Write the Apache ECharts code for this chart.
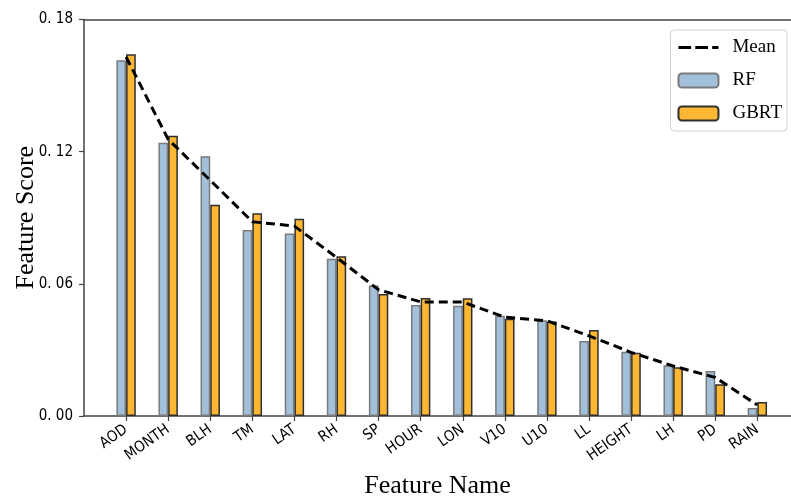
<!DOCTYPE html>
<html>
<head>
<meta charset="utf-8">
<script src="https://cdn.jsdelivr.net/npm/echarts@6/dist/echarts.min.js"></script>
<style>html,body{margin:0;padding:0;background:#fff;}#c{width:791px;height:497px;}</style>
</head>
<body>
<div id="c"></div>
<script>
const categories = ['AOD','MONTH','BLH','TM','LAT','RH','SP','HOUR','LON','V10','U10','LL','HEIGHT','LH','PD','RAIN'];
const rfValues   = [0.1615,0.1241,0.1179,0.0844,0.0829,0.0714,0.0592,0.0504,0.0501,0.0455,0.0435,0.0340,0.0292,0.0230,0.0204,0.0036];
const gbrtValues = [0.1642,0.1272,0.0959,0.0920,0.0896,0.0725,0.0554,0.0536,0.0534,0.0442,0.0429,0.0390,0.0287,0.0221,0.0144,0.0064];
const meanValues = [0.1630,0.1256,0.1070,0.0882,0.0862,0.0720,0.0573,0.0518,0.0517,0.0449,0.0432,0.0364,0.0289,0.0227,0.0175,0.0050];
const yTicks = [0, 0.06, 0.12, 0.18];

const idx = categories.map((_, i) => i);
const chart = echarts.init(document.getElementById('c'), null, {renderer: 'canvas'});
const tickFont = '"Liberation Sans Narrow", "DejaVu Sans Condensed", sans-serif';
const dashIcon = 'path://M0,0h12v3h-12z M16,0h12v3h-12z M32,0h6v3h-6z';
chart.setOption({
  animation: false,
  backgroundColor: '#fff',
  grid: {left: 84, right: 0, top: 19.5, bottom: 81, outerBoundsMode: 'none', containLabel: false},
  legend: {
    orient: 'vertical', right: 4, top: 30,
    backgroundColor: '#fff', borderColor: '#d0d0d0', borderWidth: 1, borderRadius: 4,
    padding: [8, 5, 8, 7], itemWidth: 40, itemHeight: 14, itemGap: 14,
    textStyle: {fontFamily: '"Liberation Serif", serif', fontSize: 19, color: '#000', padding: [0, 0, 0, 9]},
    data: [{name: 'Mean', icon: dashIcon, itemStyle: {color: '#000'}}, 'RF', 'GBRT']
  },
  xAxis: [{
    type: 'value', min: -1, max: 15.8,
    splitLine: {show: false},
    axisLine: {onZero: false, lineStyle: {color: '#444', width: 1.5}},
    axisTick: {show: true, length: 5, lineStyle: {color: '#444', width: 1.2}, customValues: idx},
    axisLabel: {
      customValues: idx, rotate: 35, margin: 12,
      fontFamily: tickFont, fontSize: 15, color: '#000',
      formatter: v => categories[Math.round(v)] || ''
    },
    name: 'Feature Name', nameLocation: 'middle', nameGap: 57, nameMoveOverlap: false,
    nameTextStyle: {fontFamily: '"Liberation Serif", serif', fontSize: 26, color: '#000'}
  }, {
    type: 'value', position: 'top', min: -1, max: 15.8,
    axisLine: {show: true, onZero: false, lineStyle: {color: '#444', width: 1.5}},
    axisTick: {show: false}, axisLabel: {show: false}, splitLine: {show: false}
  }],
  yAxis: {
    type: 'value', min: 0, max: 0.18, interval: 0.06,
    splitLine: {show: false},
    axisLine: {show: true, onZero: false, lineStyle: {color: '#444', width: 1.5}},
    axisTick: {show: true, length: 5, lineStyle: {color: '#444', width: 1.2}},
    axisLabel: {
      customValues: yTicks, margin: 11,
      fontFamily: tickFont, fontSize: 15, color: '#000',
      formatter: v => v.toFixed(2).replace('.', '. ')
    },
    name: 'Feature Score', nameLocation: 'middle', nameGap: 45, nameMoveOverlap: false,
    nameTextStyle: {fontFamily: '"Liberation Serif", serif', fontSize: 26, color: '#000'}
  },
  series: [{
    name: 'RF', type: 'bar', barWidth: 9.7, barGap: '0%',
    itemStyle: {color: '#a3c0db', borderColor: '#7a7a7a', borderWidth: 1.5},
    data: rfValues.map((v, i) => [i, v])
  }, {
    name: 'GBRT', type: 'bar', barWidth: 9.7, barGap: '0%',
    itemStyle: {color: '#fdb733', borderColor: '#2f2f2f', borderWidth: 1.5},
    data: gbrtValues.map((v, i) => [i, v])
  }, {
    name: 'Mean', type: 'line', symbol: 'none', z: 5,
    lineStyle: {color: '#000', width: 3, type: [9, 5]},
    itemStyle: {color: '#000'},
    data: meanValues.map((v, i) => [i, v])
  }]
});
</script>
</body>
</html>
